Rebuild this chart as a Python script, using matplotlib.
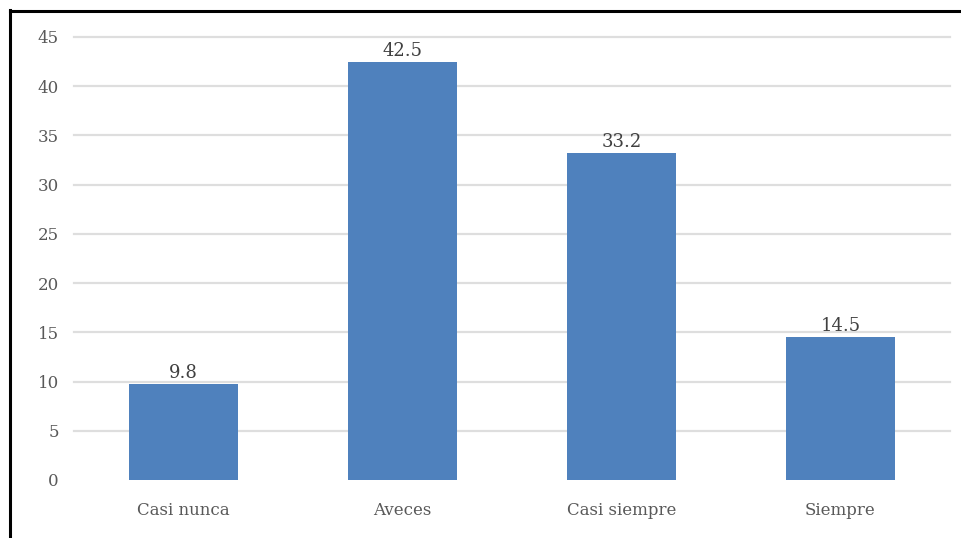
import numpy as np
import matplotlib.pyplot as plt
from matplotlib.lines import Line2D

# data
categorias = ['Casi nunca', 'Aveces', 'Casi siempre', 'Siempre']
valores = [9.8, 42.5, 33.2, 14.5]
ticks_y = [0, 5, 10, 15, 20, 25, 30, 35, 40, 45]

plt.rcParams['font.family'] = ['DejaVu Serif']

fig = plt.figure(figsize=(9.62, 5.38), dpi=100)
ax = fig.add_axes([74 / 962, 58 / 538, 876 / 962, 443 / 538])

x = np.arange(len(categorias))
barras = ax.bar(x, valores, width=0.5, color='#4F81BD', zorder=3)

# gridlines (no line at zero)
for t in ticks_y[1:]:
    ax.axhline(t, color='#DEDEDE', lw=1.6, zorder=1, clip_on=False)

ax.set_xlim(-0.5, 3.5)
ax.set_ylim(0, 45)
ax.set_yticks(ticks_y)
ax.set_xticks(x)
ax.set_xticklabels(categorias)
ax.tick_params(axis='both', length=0, colors='#595959', labelsize=12)
ax.tick_params(axis='y', pad=11)
ax.tick_params(axis='x', pad=16)
for s in ax.spines.values():
    s.set_visible(False)

for b, v in zip(barras, valores):
    ax.text(b.get_x() + b.get_width() / 2, v + 0.2, f'{v}',
            ha='center', va='bottom', fontsize=13, color='#404040')

# frame lines on top and left
fig.add_artist(Line2D([9.5 / 962, 9.5 / 962], [0, 1 - 10 / 538], transform=fig.transFigure,
                      color='black', lw=2.2))
fig.add_artist(Line2D([9.5 / 962, 1], [1 - 10.5 / 538, 1 - 10.5 / 538], transform=fig.transFigure,
                      color='black', lw=2.2))

fig.savefig('out.png', dpi=100)
